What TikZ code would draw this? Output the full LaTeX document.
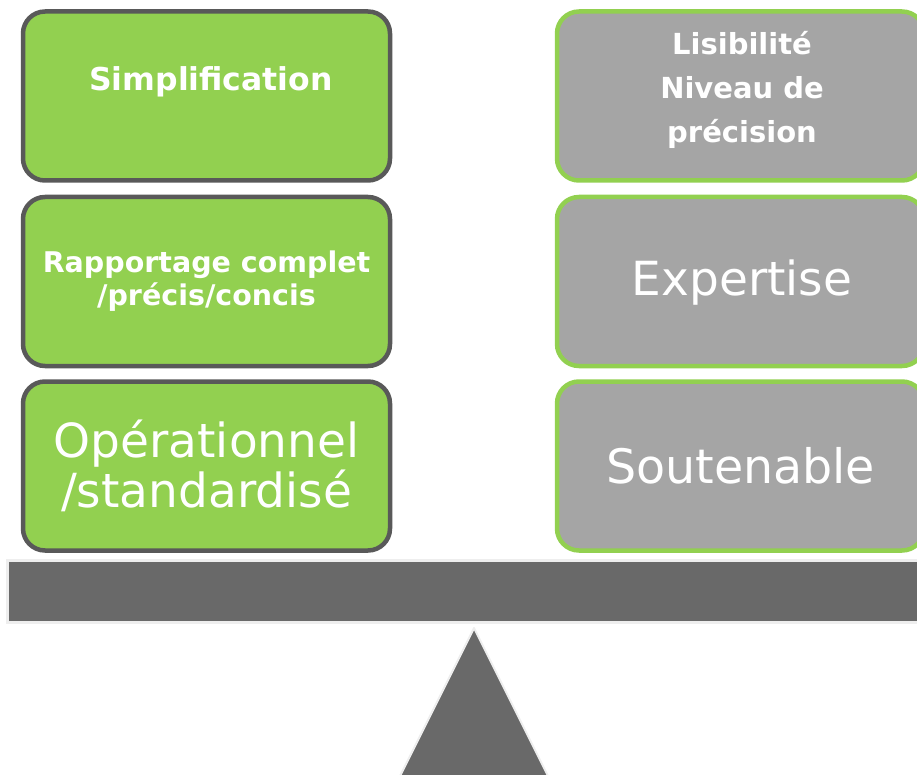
\documentclass[tikz,border=0pt]{standalone}
\usepackage{fontspec}
\setmainfont{DejaVu Sans}
\usetikzlibrary{positioning}
\definecolor{leaf}{HTML}{92D050}
\definecolor{slate}{HTML}{595959}
\definecolor{ash}{HTML}{A5A5A5}
\definecolor{beam}{HTML}{696969}
\definecolor{haze}{HTML}{EEEEEE}

\begin{document}
\begin{tikzpicture}[x=1pt,y=-1pt,
	pile/.style={rounded corners=22pt, line width=4.5pt, minimum width=367pt, minimum height=169pt, text=white, align=center, inner sep=0pt},
	lpile/.style={pile, fill=leaf, draw=slate},
	rpile/.style={pile, fill=ash, draw=leaf},
	word/.style={text=white, align=center, inner sep=0pt}]
		\useasboundingbox (0,0) rectangle (917,775);
		\clip (0,0) rectangle (917,775);
		% beam and pivot
		\draw[fill=beam, draw=haze, line width=3pt] (7.5,560.5) rectangle (935,622);
		\draw[fill=beam, draw=haze, line width=2pt, line join=round] (474,628) -- (388,800) -- (560,800) -- cycle;
		% left pile
		\node[lpile] (simp) at (206.5,96) {};
		\node[word, font=\bfseries\fontsize{31.5}{40}\selectfont] (simptext) at (211,82) {Simplification};
		\node[lpile, font=\bfseries\fontsize{28.5}{33}\selectfont] (rapp) at (206.5,281.5) {Rapportage complet\\/précis/concis};
		\node[lpile, font=\fontsize{47}{50}\selectfont] (oper) at (206.5,466) {Opérationnel\\/standardisé};
		% right pile
		\node[rpile] (lisi) at (740.5,96) {};
		\node[word, font=\bfseries\fontsize{29}{44}\selectfont] (lisitext) at (742,89.5) {Lisibilité\\Niveau de\\précision};
		\node[rpile] (expe) at (740.5,281.5) {};
		\node[word, font=\fontsize{47}{56}\selectfont] (expetext) at (742,283) {Expertise};
		\node[rpile, font=\fontsize{47.5}{56}\selectfont] (sout) at (740.5,466) {Soutenable};
	    \end{tikzpicture}
\end{document}
